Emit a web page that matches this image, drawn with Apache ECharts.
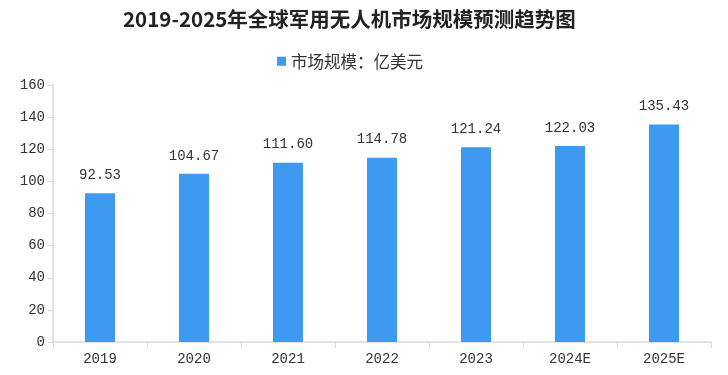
<!DOCTYPE html>
<html><head><meta charset="utf-8">
<script src="https://cdn.jsdelivr.net/npm/echarts@6/dist/echarts.min.js"></script>
<style>html,body{margin:0;padding:0;background:#fff}#c{width:728px;height:375px}</style>
</head><body><div id="c"></div>
<script>
const categories = ['2019','2020','2021','2022','2023','2024E','2025E'];
const values = [92.53, 104.67, 111.60, 114.78, 121.24, 122.03, 135.43];
const seriesName = '市场规模：亿美元';
const titleText = '2019-2025年全球军用无人机市场规模预测趋势图';
const chart = echarts.init(document.getElementById('c'));
const numFont = '"Liberation Mono","DejaVu Sans Mono",monospace';
chart.setOption({
  backgroundColor:'#fff',
  title:{text:titleText,left:118,top:4,textStyle:{fontFamily:'"Noto Sans CJK SC"',fontSize:20.5,fontWeight:'bold',color:'#222'}},
  legend:{top:48,left:272,itemWidth:9,itemHeight:9,itemGap:6,icon:'rect',textStyle:{fontFamily:'"Noto Sans CJK SC"',fontSize:16.5,color:'#333'},data:[seriesName]},
  grid:{left:53,right:17,top:85,bottom:33},
  xAxis:{type:'category',data:categories,axisLine:{lineStyle:{color:'#d9d9d9',width:1.5}},axisTick:{show:true,length:6,lineStyle:{color:'#d9d9d9'}},axisLabel:{fontFamily:numFont,fontSize:14,color:'#333',margin:10}},
  yAxis:{type:'value',min:0,max:160,interval:20,axisLine:{show:true,lineStyle:{color:'#d9d9d9',width:1.5}},axisTick:{show:true,length:5,lineStyle:{color:'#d9d9d9'}},splitLine:{show:false},axisLabel:{fontFamily:numFont,fontSize:14,color:'#333',margin:8}},
  series:[{name:seriesName,type:'bar',data:values,barWidth:30,itemStyle:{color:'#3d9af0'},label:{show:true,position:'top',distance:11,fontFamily:numFont,fontSize:14,color:'#333',formatter:p=>p.value.toFixed(2)}}]
});
</script></body></html>
